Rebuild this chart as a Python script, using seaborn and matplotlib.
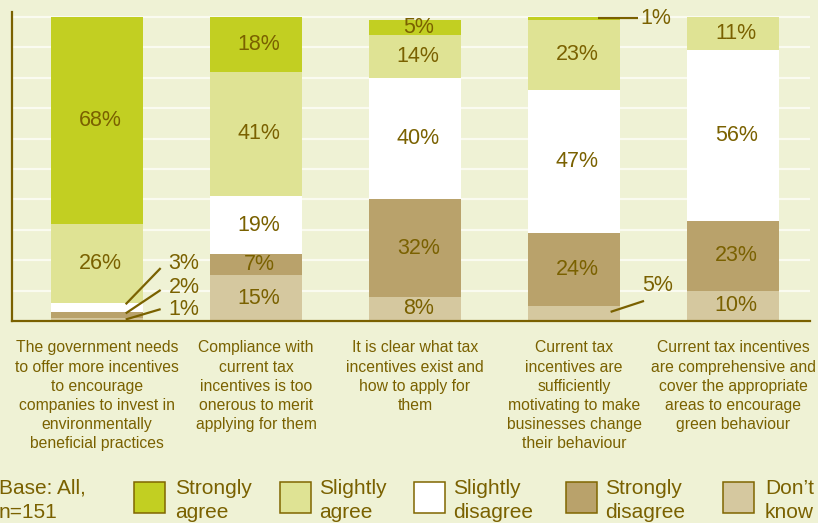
import matplotlib
matplotlib.use("Agg")
import matplotlib.pyplot as plt
import seaborn as sns
import pandas as pd
import numpy as np
from matplotlib.patches import Rectangle

# ---- survey data (percent of respondents, base n=151) ----
statements = [
    "The government needs\nto offer more incentives\nto encourage\ncompanies to invest in\nenvironmentally\nbeneficial practices",
    "Compliance with\ncurrent tax\nincentives is too\nonerous to merit\napplying for them",
    "It is clear what tax\nincentives exist and\nhow to apply for\nthem",
    "Current tax\nincentives are\nsufficiently\nmotivating to make\nbusinesses change\ntheir behaviour",
    "Current tax incentives\nare comprehensive and\ncover the appropriate\nareas to encourage\ngreen behaviour",
]
strongly_agree = [68, 18, 5, 1, 0]
slightly_agree = [26, 41, 14, 23, 11]
slightly_disagree = [3, 19, 40, 47, 56]
strongly_disagree = [2, 7, 32, 24, 23]
dont_know = [1, 15, 8, 5, 10]

response_names = ["Strongly agree", "Slightly agree", "Slightly disagree",
                  "Strongly disagree", "Don\u2019t know"]

# ---- styling ----
BG = "#eff2d5"
INK = "#7a6100"
GRID = "#fafbf0"
palette = {
    "Strongly agree": "#c2cf22",
    "Slightly agree": "#dfe394",
    "Slightly disagree": "#ffffff",
    "Strongly disagree": "#b9a26b",
    "Don\u2019t know": "#d5c89f",
}

sns.set_theme(style="white", rc={"axes.facecolor": BG, "figure.facecolor": BG,
                                 "savefig.facecolor": BG})
plt.rcParams["font.family"] = ["Liberation Sans", "DejaVu Sans"]

W, H = 818, 523
fig = plt.figure(figsize=(W / 100, H / 100), dpi=100)
ax = fig.add_axes([12 / W, 1 - 321 / H, 798 / W, 309 / H])

# stacking order from the bottom of each bar upwards
series = {
    "Don\u2019t know": dont_know,
    "Strongly disagree": strongly_disagree,
    "Slightly disagree": slightly_disagree,
    "Slightly agree": slightly_agree,
    "Strongly agree": strongly_agree,
}
df = pd.DataFrame({"statement": statements})
running = np.zeros(len(statements))
bottoms = {}
for name, vals in series.items():
    bottoms[name] = running.copy()
    running = running + np.array(vals, dtype=float)
    df[name] = running

# draw cumulative totals from the tallest down so each layer shows its own band
for name in reversed(list(series.keys())):
    sns.barplot(data=df, x="statement", y=name, order=statements,
                color=palette[name], saturation=1, width=0.58,
                linewidth=0, errorbar=None, ax=ax, zorder=2)

XMIN, XMAX = -0.535, 4.484
ax.set_xlim(XMIN, XMAX)
ax.set_ylim(0, 101.6)
ax.set_xlabel("")
ax.set_ylabel("")

# horizontal guide lines every 10 %
ax.set_yticks(np.arange(10, 101, 10))
ax.yaxis.grid(True, color=GRID, linewidth=1.6)
ax.xaxis.grid(False)
ax.set_axisbelow(True)
ax.tick_params(axis="y", length=0, labelleft=False)

for side in ("top", "right"):
    ax.spines[side].set_visible(False)
for side in ("left", "bottom"):
    ax.spines[side].set_color(INK)
    ax.spines[side].set_linewidth(1.6)

ax.set_xticks(range(len(statements)))
ax.set_xticklabels(statements, fontsize=11.3, color=INK, linespacing=1.34)
ax.tick_params(axis="x", which="major", length=0, pad=14)
ax.set_xticks([XMIN, 0.5, 1.5, 2.5, 3.5, XMAX], minor=True)
ax.tick_params(axis="x", which="minor", length=6, width=1.6, color=INK,
               direction="out")

# value labels inside each band
callouts = {(0, "Slightly disagree"), (0, "Strongly disagree"), (0, "Don\u2019t know"),
            (3, "Strongly agree"), (3, "Don\u2019t know")}
for name, vals in series.items():
    for i, v in enumerate(vals):
        if v == 0 or (i, name) in callouts:
            continue
        ax.text(i + 0.02, bottoms[name][i] + v / 2, f"{v}%", ha="center",
                va="center", fontsize=15.5, color=INK, zorder=4)

# leader-line labels for thin bands: (bar, band, line start dx, start y offset,
#                                      line end dx, line end y, text dx, text y)
leaders = [
    (0, "Slightly disagree", 0.18, -0.5, 0.40, 17.4, 0.45, 18.8),
    (0, "Strongly disagree", 0.18, -0.5, 0.40, 10.2, 0.45, 10.9),
    (0, "Don\u2019t know", 0.18, -0.5, 0.40, 3.9, 0.45, 3.9),
    (3, "Strongly agree", 0.15, -0.5, 0.40, 99.5, 0.42, 99.3),
    (3, "Don\u2019t know", 0.23, -2.0, 0.44, 6.6, 0.43, 11.8),
]
for i, name, sx, sy, ex, ey, tx, ty in leaders:
    v = series[name][i]
    top = bottoms[name][i] + v
    ax.plot([i + sx, i + ex], [top + sy, ey], color=INK, lw=1.6,
            solid_capstyle="butt", zorder=5, clip_on=False)
    ax.text(i + tx, ty, f"{v}%", ha="left", va="center", fontsize=15.5,
            color=INK, zorder=5)

# ---- legend row along the bottom ----
def fx(px):
    return px / W


def fy(py):
    return 1 - py / H


fig.text(fx(-1), fy(494), "Base: All,", fontsize=15, color=INK, va="baseline")
fig.text(fx(-1), fy(518.5), "n=151", fontsize=15, color=INK, va="baseline")

patch_x = [134, 280, 414, 566, 723]
text_x = [175, 319, 453, 605, 765]
for name, px, tx in zip(response_names, patch_x, text_x):
    fig.patches.append(Rectangle((fx(px), fy(513)), 31 / W, 31 / H,
                                 transform=fig.transFigure, facecolor=palette[name],
                                 edgecolor="#806600", linewidth=1.1))
    first, second = name.split(" ", 1)
    fig.text(fx(tx), fy(494), first, fontsize=15, color=INK, va="baseline")
    fig.text(fx(tx), fy(518.5), second, fontsize=15, color=INK, va="baseline")

fig.savefig("out.png", dpi=100, facecolor=BG)
